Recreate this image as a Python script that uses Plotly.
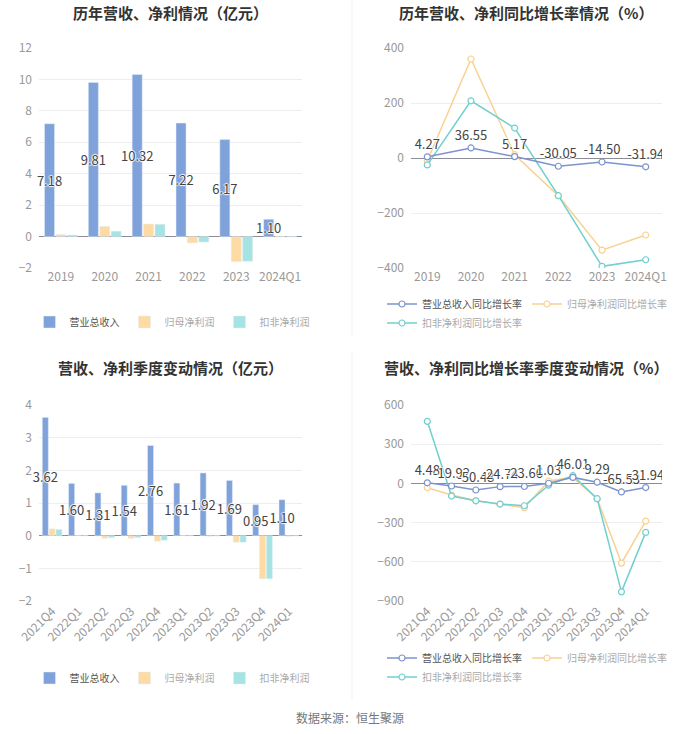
import plotly.graph_objects as go

# ---------------- data ----------------
years = ["2019", "2020", "2021", "2022", "2023", "2024Q1"]
rev = [7.18, 9.81, 10.32, 7.22, 6.17, 1.10]
net_profit = [0.13, 0.65, 0.80, -0.40, -1.59, -0.02]
ded_profit = [0.10, 0.34, 0.78, -0.35, -1.57, -0.02]

rev_growth = [4.27, 36.55, 5.17, -30.05, -14.50, -31.94]
np_growth = [-10, 360, 12, -137, -335, -280]
dnp_growth = [-25, 208, 109, -137, -394, -370]

quarters = ["2021Q4", "2022Q1", "2022Q2", "2022Q3", "2022Q4",
            "2023Q1", "2023Q2", "2023Q3", "2023Q4", "2024Q1"]
q_rev = [3.62, 1.60, 1.31, 1.54, 2.76, 1.61, 1.92, 1.69, 0.95, 1.10]
q_np = [0.21, 0.01, -0.08, -0.08, -0.17, 0.01, -0.02, -0.20, -1.32, -0.02]
q_dnp = [0.19, 0.00, -0.06, -0.06, -0.14, 0.00, -0.01, -0.20, -1.32, -0.01]

q_rev_growth = [4.48, -19.92, -50.48, -24.74, -23.66, 1.03, 46.01, 9.29, -65.53, -31.94]
q_np_growth = [-33, -89, -133, -158, -186, 18, 46, -117, -610, -288]
q_dnp_growth = [475, -97, -133, -158, -171, -13, 59, -117, -830, -375]

names_bar = ["营业总收入", "归母净利润", "扣非净利润"]
names_line = ["营业总收入同比增长率", "归母净利润同比增长率", "扣非净利润同比增长率"]

# ---------------- styles ----------------
FONT = "Noto Sans CJK SC"
C_BLUE_BAR = "#7fa2da"
C_ORANGE_BAR = "#fddba3"
C_TEAL_BAR = "#a6e3e3"
C_BLUE_LINE = "#7b93cf"
C_ORANGE_LINE = "#f9d190"
C_TEAL_LINE = "#70cfcf"
GRID = "#eeeeee"
TICK = "#999999"
W, H = 700, 734


def px_x(x):
    return x / W


def px_y(y):
    return 1 - y / H


shadow = "1px 0 1px #fff, -1px 0 1px #fff, 0 1px 1px #fff, 0 -1px 1px #fff"

fig = go.Figure()


def legend_name(n, light):
    col = "#aaaaaa" if light else "#555555"
    return f"<span style='color:{col}'>{n}</span>"


def add_bars(cats, a, b, c, xa, ya, leg):
    fig.add_trace(go.Bar(
        x=cats, y=a, name=legend_name(names_bar[0], False), marker_color=C_BLUE_BAR,
        text=[f"{v:.2f}" for v in a], textposition="inside", insidetextanchor="middle",
        textangle=0, constraintext="none", cliponaxis=False,
        insidetextfont=dict(family=FONT, size=13, color="#444", shadow=shadow),
        xaxis=xa, yaxis=ya, legend=leg, hoverinfo="skip"))
    fig.add_trace(go.Bar(
        x=cats, y=b, name=legend_name(names_bar[1], True), marker_color=C_ORANGE_BAR,
        xaxis=xa, yaxis=ya, legend=leg, hoverinfo="skip"))
    fig.add_trace(go.Bar(
        x=cats, y=c, name=legend_name(names_bar[2], True), marker_color=C_TEAL_BAR,
        xaxis=xa, yaxis=ya, legend=leg, hoverinfo="skip"))


def add_lines(cats, a, b, c, xa, ya, leg_a, leg_b):
    common = dict(mode="lines+markers", xaxis=xa, yaxis=ya, hoverinfo="skip")
    fig.add_trace(go.Scatter(
        x=cats, y=b, name=legend_name(names_line[1], True), legend=leg_a, legendrank=2,
        line=dict(color=C_ORANGE_LINE, width=1.5),
        marker=dict(symbol="circle", size=6, color="white", line=dict(color=C_ORANGE_LINE, width=1.2)),
        **common))
    fig.add_trace(go.Scatter(
        x=cats, y=c, name=legend_name(names_line[2], True), legend=leg_b, legendrank=3,
        line=dict(color=C_TEAL_LINE, width=1.5),
        marker=dict(symbol="circle", size=6, color="white", line=dict(color=C_TEAL_LINE, width=1.2)),
        **common))
    fig.add_trace(go.Scatter(
        x=cats, y=a, name=legend_name(names_line[0], False), legend=leg_a, legendrank=1,
        line=dict(color=C_BLUE_LINE, width=1.5),
        marker=dict(symbol="circle", size=6, color="white", line=dict(color=C_BLUE_LINE, width=1.2)),
        text=[f"{v:.2f}" for v in a], textposition="top center",
        textfont=dict(family=FONT, size=13, color="#444", shadow=shadow),
        mode="lines+markers+text", xaxis=xa, yaxis=ya, hoverinfo="skip"))


add_bars(years, rev, net_profit, ded_profit, "x", "y", "legend")
add_lines(years, rev_growth, np_growth, dnp_growth, "x2", "y2", "legend2", "legend5")
add_bars(quarters, q_rev, q_np, q_dnp, "x3", "y3", "legend3")
add_lines(quarters, q_rev_growth, q_np_growth, q_dnp_growth, "x4", "y4", "legend4", "legend6")


def xaxis(dom, anchor, angle=0):
    return dict(domain=dom, anchor=anchor, type="category", showgrid=False, showline=False,
                ticks="", tickangle=angle, tickfont=dict(family=FONT, size=12, color=TICK),
                automargin=False, fixedrange=True)


def yaxis(dom, anchor, rng, dtick):
    return dict(domain=dom, anchor=anchor, range=rng, dtick=dtick, showgrid=True, gridcolor=GRID,
                gridwidth=1, zeroline=True, zerolinecolor="#8a8d96", zerolinewidth=1,
                showline=False, ticks="", tickfont=dict(family=FONT, size=12, color=TICK),
                ticklabelstandoff=6, automargin=False, fixedrange=True)


xl = [px_x(39), px_x(302)]
xr = [px_x(411), px_x(662)]
yt = [px_y(268), px_y(48)]
yb = [px_y(601), px_y(405)]

legend_common = dict(orientation="h", bgcolor="rgba(0,0,0,0)",
                     font=dict(family=FONT, size=10, color="#555"), itemclick=False,
                     itemdoubleclick=False, tracegroupgap=0, traceorder="normal")

fig.update_layout(
    width=W, height=H, margin=dict(l=0, r=0, t=0, b=0, autoexpand=False),
    paper_bgcolor="white", plot_bgcolor="white",
    font=dict(family=FONT),
    barmode="group", bargap=0.22, bargroupgap=0.12,
    xaxis=xaxis(xl, "y"), yaxis=yaxis(yt, "x", [-2, 12], 2),
    xaxis2=xaxis(xr, "y2"), yaxis2=yaxis(yt, "x2", [-400, 400], 200),
    xaxis3=xaxis(xl, "y3", -45), yaxis3=yaxis(yb, "x3", [-2, 4], 1),
    xaxis4=xaxis(xr, "y4", -45), yaxis4=yaxis(yb, "x4", [-900, 600], 300),
    legend=dict(x=px_x(172), y=px_y(322), xanchor="center", yanchor="middle", **legend_common),
    legend2=dict(x=px_x(382), y=px_y(304), xanchor="left", yanchor="middle", **legend_common),
    legend5=dict(x=px_x(382), y=px_y(323), xanchor="left", yanchor="middle", **legend_common),
    legend3=dict(x=px_x(172), y=px_y(678), xanchor="center", yanchor="middle", **legend_common),
    legend4=dict(x=px_x(382), y=px_y(658), xanchor="left", yanchor="middle", **legend_common),
    legend6=dict(x=px_x(382), y=px_y(677), xanchor="left", yanchor="middle", **legend_common),
    showlegend=True,
)

titles = [
    ("历年营收、净利情况（亿元）", 170, 12),
    ("历年营收、净利同比增长率情况（%）", 526, 12),
    ("营收、净利季度变动情况（亿元）", 170, 367),
    ("营收、净利同比增长率季度变动情况（%）", 526, 367),
]
for t, x, y in titles:
    fig.add_annotation(text=f"<b>{t}</b>", x=px_x(x), y=px_y(y), xref="paper", yref="paper",
                       showarrow=False, xanchor="center", yanchor="middle",
                       font=dict(family=FONT, size=15, color="#333"))

fig.add_annotation(text="数据来源：恒生聚源", x=0.5, y=px_y(717), xref="paper", yref="paper",
                   showarrow=False, xanchor="center", yanchor="middle",
                   font=dict(family=FONT, size=12, color="#777"))

# faint panel dividers
fig.add_shape(type="line", xref="paper", yref="paper", x0=px_x(352), x1=px_x(352),
              y0=px_y(0), y1=px_y(336), line=dict(color="#f2f2f2", width=1))
fig.add_shape(type="line", xref="paper", yref="paper", x0=px_x(352), x1=px_x(352),
              y0=px_y(352), y1=px_y(700), line=dict(color="#f2f2f2", width=1))

fig.write_html("out.html", config={"displayModeBar": False},
               post_script="document.body.style.margin='0';")
